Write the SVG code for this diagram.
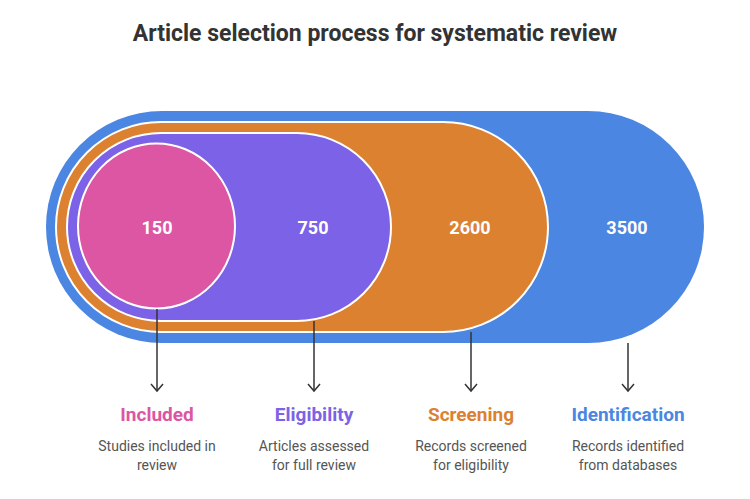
<svg xmlns="http://www.w3.org/2000/svg" width="750" height="499" viewBox="0 0 750 499">
<style>
.num{font-family:Roboto,"Liberation Sans",sans-serif;font-weight:700;font-size:18px;fill:#fff;text-anchor:middle;dominant-baseline:central}
.ttl{font-family:Roboto,"Liberation Sans",sans-serif;font-weight:700;font-size:19px;text-anchor:middle}
.desc{font-family:Roboto,"Liberation Sans",sans-serif;font-size:14px;fill:#555;text-anchor:middle}
.conn{stroke:#333;stroke-width:1.5;fill:none}
.shape{stroke:#fff;stroke-width:2}
</style>
<defs>
<marker id="arr" viewBox="0 0 12 14" refX="10" refY="7" markerWidth="12" markerHeight="14" markerUnits="userSpaceOnUse" orient="auto">
<path d="M3,1 L10,7 L3,13" fill="none" stroke="#333" stroke-width="1.5"/>
</marker>
</defs>
<rect width="750" height="499" fill="#fff"/>
<text x="375" y="41" font-family="Roboto,'Liberation Sans',sans-serif" font-weight="700" font-size="23" fill="#333" text-anchor="middle">Article selection process for systematic review</text>
<g id="identification">
<rect x="46" y="111" width="658" height="232" rx="116" fill="#4A86E2"/>
<text class="num" x="627" y="227">3500</text>
</g>
<g id="screening">
<rect class="shape" x="56" y="122" width="492" height="210" rx="105" fill="#DC8130"/>
<text class="num" x="470" y="227">2600</text>
</g>
<g id="eligibility">
<rect class="shape" x="67" y="133" width="324" height="188" rx="94" fill="#7B62E6"/>
<text class="num" x="313" y="227">750</text>
</g>
<g id="included">
<ellipse class="shape" cx="156.5" cy="226" rx="78.5" ry="82.5" fill="#DC56A3"/>
<text class="num" x="157" y="227">150</text>
</g>
<g id="connectors">
<line class="conn" x1="157" y1="309" x2="157" y2="391" marker-end="url(#arr)"/>
<line class="conn" x1="314" y1="321" x2="314" y2="391" marker-end="url(#arr)"/>
<line class="conn" x1="471" y1="332" x2="471" y2="391" marker-end="url(#arr)"/>
<line class="conn" x1="628" y1="343" x2="628" y2="391" marker-end="url(#arr)"/>
</g>
<g id="label-included">
<text class="ttl" x="157" y="421" fill="#DC56A3">Included</text>
<text class="desc" x="157" y="451">Studies included in</text>
<text class="desc" x="157" y="470">review</text>
</g>
<g id="label-eligibility">
<text class="ttl" x="314" y="421" fill="#7B62E6">Eligibility</text>
<text class="desc" x="314" y="451">Articles assessed</text>
<text class="desc" x="314" y="470">for full review</text>
</g>
<g id="label-screening">
<text class="ttl" x="471" y="421" fill="#DC8130">Screening</text>
<text class="desc" x="471" y="451">Records screened</text>
<text class="desc" x="471" y="470">for eligibility</text>
</g>
<g id="label-identification">
<text class="ttl" x="628" y="421" fill="#4A86E2">Identification</text>
<text class="desc" x="628" y="451">Records identified</text>
<text class="desc" x="628" y="470">from databases</text>
</g>
</svg>
